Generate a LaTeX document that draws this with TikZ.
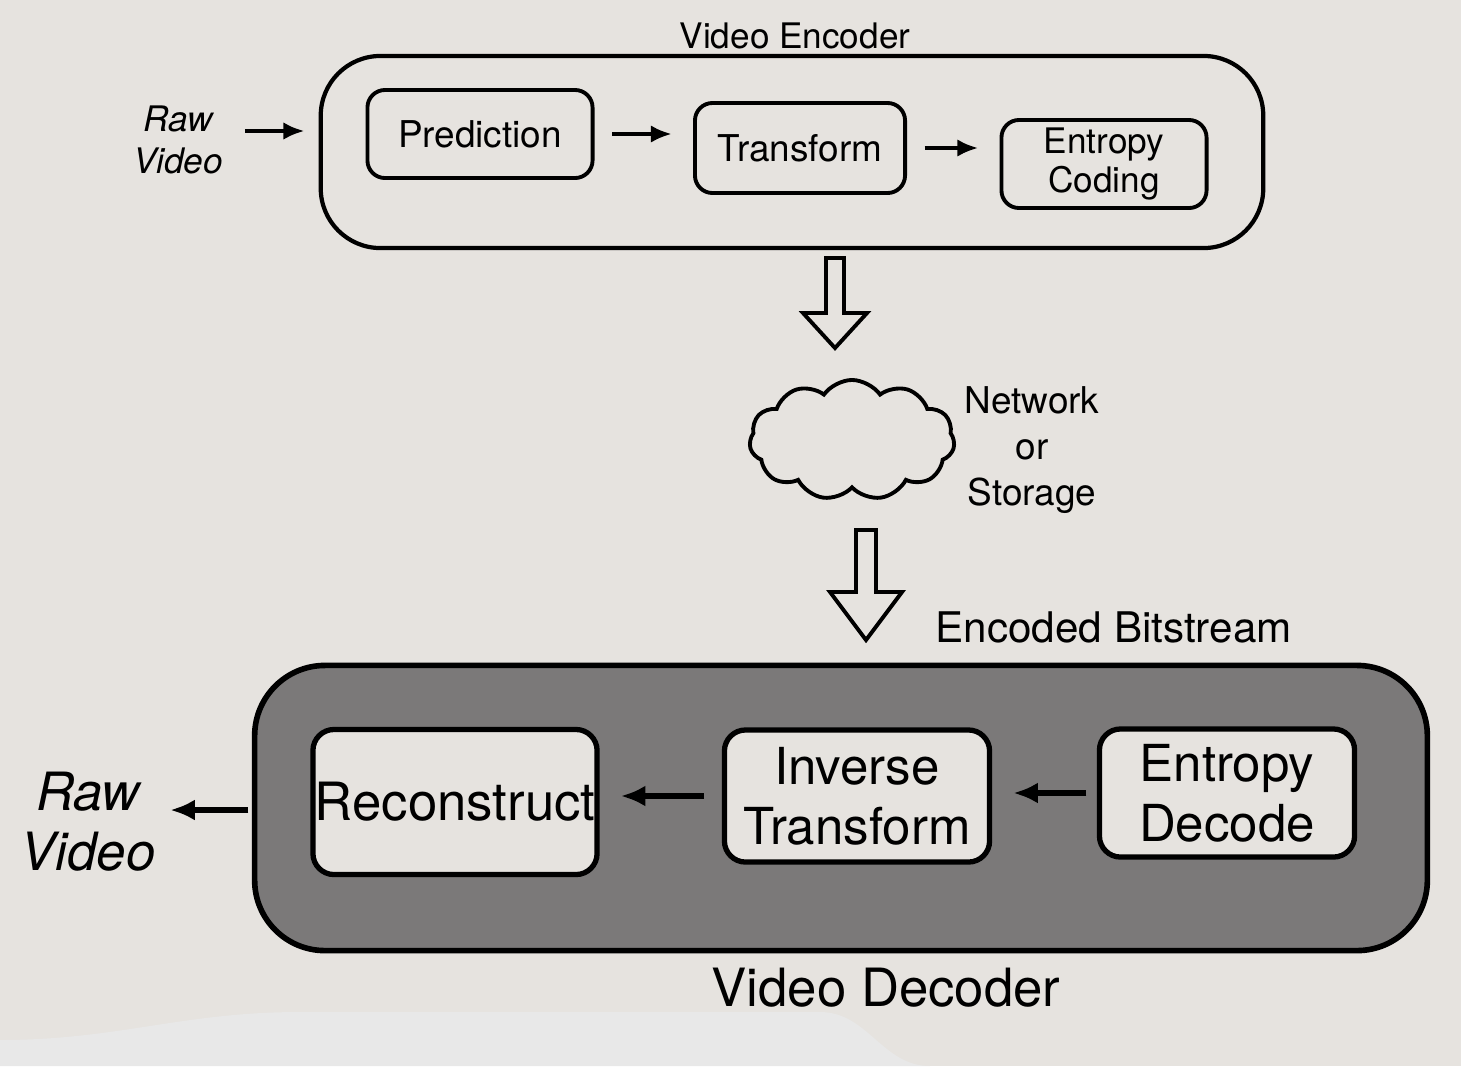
\documentclass[tikz,border=0pt]{standalone}
\usepackage{fontspec}
\setmainfont{TeX Gyre Heros}
\usetikzlibrary{shapes.symbols,arrows.meta,calc}
\definecolor{page}{HTML}{E6E3DF}
\definecolor{dec}{HTML}{7B7979}
\begin{document}
\begin{tikzpicture}[x=0.01cm,y=-0.01cm,
  box/.style={draw,line width=1.1pt,rounded corners=5pt,fill=page,align=center,inner sep=0pt},
  dbox/.style={draw,line width=1.5pt,rounded corners=6pt,fill=page,align=center,inner sep=0pt},
  outer/.style={draw,line width=1.2pt,rounded corners=17pt,inner sep=0pt},
  arr/.style={-{Latex[length=6pt,width=5pt]},line width=1.2pt},
  darr/.style={-{Latex[length=7pt,width=6pt]},line width=1.6pt},
  hollow/.style={draw,line width=1.1pt,fill=page,line join=miter},
  lab/.style={align=center,inner sep=0pt}]
\useasboundingbox (0,0) rectangle (1461,1066);
\fill[page] (0,0) rectangle (1461,1066);
\fill[black!9] (0,1066) -- (0,1040) to[out=0,in=180] (300,1012) -- (820,1012) to[out=0,in=180] (930,1066) -- cycle;
% encoder
\node[outer,minimum width=9.42cm,minimum height=1.92cm] (encbox) at (792,152) {};
\node[lab,font=\fontsize{10}{12}\selectfont] (enc) at (795,36) {Video Encoder};
\node[box,minimum width=2.25cm,minimum height=0.88cm,font=\fontsize{10.5}{12}\selectfont] (pred) at (480,134) {Prediction};
\node[box,minimum width=2.1cm,minimum height=0.9cm,font=\fontsize{10.5}{12}\selectfont] (trans) at (800,148) {Transform};
\node[box,minimum width=2.05cm,minimum height=0.88cm,font=\fontsize{10}{11}\selectfont] (ent) at (1104,164) {Entropy\\Coding};
\node[lab,font=\fontsize{10}{12}\selectfont\itshape] (rawin) at (178,140) {Raw\\Video};
\draw[arr,shorten <=6pt,shorten >=4pt] (rawin.east |- 0,131) -- (encbox.west |- 0,131);
\draw[arr,shorten <=5pt,shorten >=6pt] (pred.east) -- (pred.east -| trans.west);
\draw[arr,shorten <=5pt,shorten >=6pt] (trans.east) -- (trans.east -| ent.west);
% hollow arrow 1
\coordinate (h1) at (835,258);
\draw[hollow] ($(h1)+(-9,0)$) -- ($(h1)+(9,0)$) -- ($(h1)+(9,55)$) -- ($(h1)+(32,55)$) -- ($(h1)+(0,90)$) -- ($(h1)+(-32,55)$) -- ($(h1)+(-9,55)$) -- cycle;
% cloud
\node[cloud,draw,line width=1.1pt,fill=page,cloud puffs=11,cloud puff arc=110,aspect=1.7,minimum width=2.05cm,minimum height=1.2cm] (cloud) at (852,440) {};
\node[lab,font=\fontsize{10.5}{13}\selectfont] (net) at (1032,450) {Network\\or\\Storage};
% hollow arrow 2
\coordinate (h2) at (866,530);
\draw[hollow] ($(h2)+(-10,0)$) -- ($(h2)+(10,0)$) -- ($(h2)+(10,62)$) -- ($(h2)+(36,62)$) -- ($(h2)+(0,110)$) -- ($(h2)+(-36,62)$) -- ($(h2)+(-10,62)$) -- cycle;
\node[lab,anchor=west,font=\fontsize{12}{14}\selectfont] (ebs) at (935,627) {Encoded Bitstream};
% decoder
\node[outer,fill=dec,line width=1.6pt,rounded corners=20pt,minimum width=11.72cm,minimum height=2.85cm] (decbox) at (841,808) {};
\node[dbox,minimum width=2.84cm,minimum height=1.45cm,font=\fontsize{15}{17}\selectfont] (rec) at (455,802) {Reconstruct};
\node[dbox,minimum width=2.65cm,minimum height=1.32cm,font=\fontsize{14.5}{17}\selectfont] (inv) at (857,796) {Inverse\\Transform};
\node[dbox,minimum width=2.55cm,minimum height=1.28cm,font=\fontsize{14.5}{17}\selectfont] (edec) at (1227,793) {Entropy\\Decode};
\draw[darr,shorten <=5pt,shorten >=6pt] (inv.west) -- (inv.west -| rec.east);
\draw[darr,shorten <=3pt,shorten >=6pt] (edec.west) -- (edec.west -| inv.east);
\node[lab,font=\fontsize{15}{17}\selectfont\itshape] (rawout) at (88,822) {Raw\\Video};
\draw[darr,shorten <=1pt,shorten >=4pt] (decbox.west |- 0,810) -- (rawout.east |- 0,810);
\node[lab,font=\fontsize{15}{17}\selectfont] (vd) at (886,988) {Video Decoder};
\end{tikzpicture}
\end{document}
